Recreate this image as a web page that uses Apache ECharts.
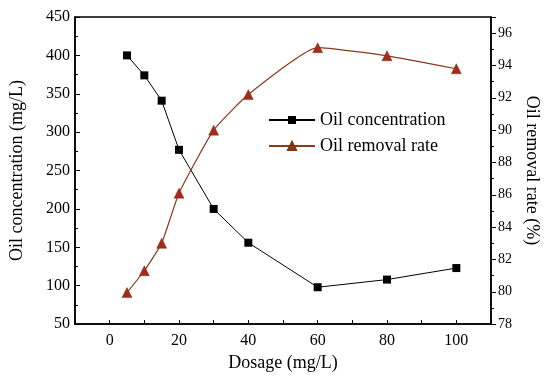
<!DOCTYPE html>
<html><head><meta charset="utf-8">
<script src="https://cdn.jsdelivr.net/npm/echarts@6/dist/echarts.min.js"></script>
<style>html,body{margin:0;padding:0;background:#fff}#c{width:550px;height:377px}</style>
</head><body><div id="c"></div>
<script>
const dosage = [5, 10, 15, 20, 30, 40, 60, 80, 100];
const oilConcentration = [400, 374, 341, 277, 200, 156, 98, 108, 123];
const removalRate = [79.95, 81.3, 83.0, 86.1, 90.0, 92.2, 95.1, 94.6, 93.8];
const xLabelTicks = [0, 20, 40, 60, 80, 100];

const F = 'Liberation Serif, Times New Roman, serif';
const chart = echarts.init(document.getElementById('c'), null, {renderer: 'canvas'});
chart.setOption({
  animation: false,
  backgroundColor: '#fff',
  grid: {left: 67, right: 59, top: 17, bottom: 49, show: true, borderColor: '#000', borderWidth: 1.5},
  legend: {
    orient: 'vertical', left: 263, top: 106, itemWidth: 46, itemHeight: 10, itemGap: 8,
    textStyle: {fontFamily: F, fontSize: 18, color: '#000'},
    data: ['Oil concentration', 'Oil removal rate']
  },
  xAxis: {
    type: 'value', min: -10, max: 110, interval: 10,
    name: 'Dosage (mg/L)', nameLocation: 'middle', nameGap: 28,
    nameTextStyle: {fontFamily: F, fontSize: 18, color: '#000'},
    axisLine: {onZero: false, lineStyle: {color: '#000', width: 1.5}},
    axisTick: {inside: true, length: 4, lineStyle: {color: '#000'}},
    axisLabel: {fontFamily: F, fontSize: 16, color: '#000', margin: 9,
      formatter: v => xLabelTicks.includes(v) ? String(v) : ''},
    splitLine: {show: false}
  },
  yAxis: [{
    type: 'value', min: 50, max: 450, interval: 50, position: 'left',
    name: 'Oil concentration (mg/L)', nameLocation: 'middle', nameGap: 49, nameRotate: 90,
    nameTextStyle: {fontFamily: F, fontSize: 18, color: '#000'},
    axisLine: {show: true, onZero: false, lineStyle: {color: '#000', width: 1.5}},
    axisTick: {show: true, inside: true, length: 5, lineStyle: {color: '#000'}},
    minorTick: {show: true, splitNumber: 2, length: 3, lineStyle: {color: '#000'}},
    axisLabel: {fontFamily: F, fontSize: 16, color: '#000', margin: 5},
    splitLine: {show: false}
  }, {
    type: 'value', min: 78, max: 97, interval: 2, position: 'right',
    name: 'Oil removal rate (%)', nameLocation: 'middle', nameGap: 32, nameRotate: -90,
    nameTextStyle: {fontFamily: F, fontSize: 18, color: '#000'},
    axisLine: {show: true, onZero: false, lineStyle: {color: '#000', width: 1.5}},
    axisTick: {show: true, inside: false, length: 5, lineStyle: {color: '#000'}},
    minorTick: {show: true, splitNumber: 2, length: 3, lineStyle: {color: '#000'}},
    axisLabel: {fontFamily: F, fontSize: 14, color: '#000', margin: 7,
      formatter: v => (v % 2 === 0 && v <= 96) ? String(v) : ''},
    splitLine: {show: false}
  }],
  series: [{
    name: 'Oil concentration', type: 'line', yAxisIndex: 0,
    data: dosage.map((d, i) => [d, oilConcentration[i]]),
    symbol: 'rect', symbolSize: 8,
    lineStyle: {color: '#000', width: 1},
    itemStyle: {color: '#000'}
  }, {
    name: 'Oil removal rate', type: 'line', yAxisIndex: 1,
    data: dosage.map((d, i) => [d, removalRate[i]]),
    smooth: 0.15,
    symbol: 'triangle', symbolSize: 10,
    lineStyle: {color: '#8B3A1A', width: 1.2},
    itemStyle: {color: '#A52A1E', borderColor: '#7A3A10', borderWidth: 0.5}
  }]
});
</script></body></html>
